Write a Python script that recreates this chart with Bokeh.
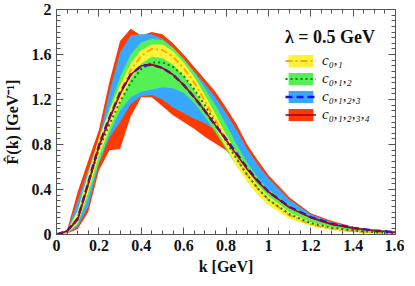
from bokeh.plotting import figure
from bokeh.models import (LinearAxis, SingleIntervalTicker, Legend, LegendItem,
                          Range1d, ColumnDataSource, CustomJSTickFormatter)
from bokeh.embed import file_html
from bokeh.resources import INLINE

# ---- data ----
k = [0, 0.05, 0.1, 0.15, 0.2, 0.25, 0.3, 0.35, 0.4, 0.45, 0.5, 0.55, 0.6, 0.65,
     0.7, 0.75, 0.8, 0.85, 0.9, 0.95, 1.0, 1.1, 1.2, 1.3, 1.4, 1.5, 1.6]

# c_{0,1}  (yellow band, orange dash-dot central line)
c01_mid = [0, .03, .15, .47, .80, 1.04, 1.26, 1.46, 1.59, 1.65, 1.64, 1.58, 1.48, 1.35,
           1.19, 1.02, .85, .68, .53, .41, .31, .17, .09, .05, .03, .017, .01]
c01_hi = [0, .03, .21, .54, .86, 1.10, 1.33, 1.52, 1.64, 1.69, 1.69, 1.63, 1.53, 1.40,
          1.24, 1.07, .89, .72, .57, .44, .34, .20, .11, .065, .038, .022, .013]
c01_lo = [0, .01, .10, .38, .70, .94, 1.17, 1.38, 1.52, 1.58, 1.57, 1.51, 1.41, 1.28,
          1.12, .95, .78, .61, .47, .35, .26, .14, .075, .04, .022, .012, .007]

# c_{0,1,2}  (green band, dotted central line)
c012_mid = [0, .03, .14, .45, .76, .98, 1.18, 1.35, 1.47, 1.53, 1.53, 1.49, 1.41, 1.29,
            1.15, .99, .83, .67, .53, .41, .31, .18, .10, .06, .035, .02, .012]
c012_hi = [0, .02, .22, .55, .84, 1.13, 1.40, 1.60, 1.71, 1.74, 1.73, 1.66, 1.56, 1.44,
           1.30, 1.15, .98, .80, .64, .51, .40, .26, .155, .095, .057, .035, .02]
c012_lo = [0, .01, .09, .33, .64, .90, 1.10, 1.22, 1.27, 1.29, 1.31, 1.30, 1.26, 1.17,
           1.05, .91, .76, .61, .48, .37, .28, .16, .09, .05, .03, .018, .01]

# c_{0,1,2,3}  (blue band, dashed central line)
c0123_mid = [0, .03, .14, .46, .79, 1.04, 1.26, 1.42, 1.50, 1.51, 1.48, 1.42, 1.33, 1.22,
             1.10, .97, .85, .72, .59, .48, .38, .245, .155, .095, .058, .036, .021]
c0123_hi = [0, .03, .30, .58, .85, 1.27, 1.62, 1.77, 1.78, 1.78, 1.74, 1.66, 1.56, 1.45,
            1.34, 1.22, 1.08, .93, .76, .62, .50, .31, .18, .11, .065, .038, .022]
c0123_lo = [0, .01, .07, .25, .63, .86, 1.00, 1.16, 1.23, 1.24, 1.20, 1.13, 1.08, 1.03,
            .99, .93, .80, .68, .56, .45, .36, .225, .14, .085, .052, .032, .019]

# c_{0,1,2,3,4}  (red band, solid dark-red central line)
c01234_mid = [0, .03, .13, .45, .78, 1.03, 1.25, 1.42, 1.50, 1.51, 1.48, 1.42, 1.33, 1.22,
              1.10, .97, .84, .71, .58, .47, .38, .24, .15, .09, .055, .035, .02]
c01234_hi = [0, .04, .38, .66, .93, 1.36, 1.72, 1.83, 1.77, 1.80, 1.78, 1.70, 1.60, 1.49,
             1.38, 1.27, 1.13, .98, .80, .66, .53, .33, .19, .12, .07, .04, .025]
c01234_lo = [0, .01, .05, .20, .57, .75, .76, 1.05, 1.22, 1.22, 1.14, 1.06, 1.00, .94,
             .87, .81, .75, .65, .53, .43, .34, .21, .13, .08, .05, .03, .018]

labels = ["c₀,₁", "c₀,₁,₂", "c₀,₁,₂,₃", "c₀,₁,₂,₃,₄"]
legend_title = "λ = 0.5 GeV"
x_label = "k [GeV]"
y_label = "F̂(k) [GeV⁻¹]"

src = ColumnDataSource(dict(
    k=k,
    c01_mid=c01_mid, c01_hi=c01_hi, c01_lo=c01_lo,
    c012_mid=c012_mid, c012_hi=c012_hi, c012_lo=c012_lo,
    c0123_mid=c0123_mid, c0123_hi=c0123_hi, c0123_lo=c0123_lo,
    c01234_mid=c01234_mid, c01234_hi=c01234_hi, c01234_lo=c01234_lo,
))

FONT = "Liberation Serif"
AX = "#555555"

p = figure(frame_width=339, frame_height=225,
           x_range=Range1d(0, 1.6), y_range=Range1d(0, 2),
           output_backend="svg", toolbar_location=None,
           min_border_left=53, min_border_right=9, min_border_top=9, min_border_bottom=40)
p.grid.visible = False
p.outline_line_color = AX
p.background_fill_color = "white"

# bands (bottom to top)
r_red = p.varea(x="k", y1="c01234_lo", y2="c01234_hi", source=src, fill_color="#ff3a00")
r_blue = p.varea(x="k", y1="c0123_lo", y2="c0123_hi", source=src, fill_color="#38a8ff")
r_green = p.varea(x="k", y1="c012_lo", y2="c012_hi", source=src, fill_color="#55f055")
r_yel = p.varea(x="k", y1="c01_lo", y2="c01_hi", source=src, fill_color="#fff23a")

# central lines
l_yel = p.line(x="k", y="c01_mid", source=src, line_color="#ffaa00", line_width=2,
               line_dash="7 3 2 3")
l_green = p.line(x="k", y="c012_mid", source=src, line_color="#008a00", line_width=2,
                 line_dash="2 3")
l_blue = p.line(x="k", y="c0123_mid", source=src, line_color="#1010ee", line_width=2.4,
                line_dash="7 4")
l_red = p.line(x="k", y="c01234_mid", source=src, line_color="#a00030", line_width=1.6)


def style(ax, interval, nminor, labels_on):
    ax.ticker = SingleIntervalTicker(interval=interval, num_minor_ticks=nminor)
    ax.major_tick_in = 7
    ax.major_tick_out = 0
    ax.minor_tick_in = 4
    ax.minor_tick_out = 0
    ax.axis_line_color = AX
    ax.major_tick_line_color = AX
    ax.minor_tick_line_color = AX
    if labels_on:
        ax.formatter = CustomJSTickFormatter(code="return Number(tick.toFixed(2)).toString();")
        ax.major_label_text_font = FONT
        ax.major_label_text_font_style = "bold"
        ax.major_label_text_font_size = "16px"
        ax.major_label_text_color = "#111111"
        ax.axis_label_text_font = FONT
        ax.axis_label_text_font_style = "bold"
        ax.axis_label_text_font_size = "16px"
        ax.axis_label_text_color = "#111111"
    else:
        ax.formatter = CustomJSTickFormatter(code="return '';")
        ax.major_label_text_font_size = "0px"
        ax.major_label_standoff = 0


xa = p.xaxis[0]
ya = p.yaxis[0]
style(xa, 0.2, 4, True)
style(ya, 0.4, 8, True)
xa.axis_label = x_label
ya.axis_label = y_label
xa.major_label_standoff = 5
ya.major_label_standoff = 5
xa.axis_label_standoff = 4
ya.axis_label_standoff = 8

top = LinearAxis()
right = LinearAxis()
style(top, 0.2, 4, False)
style(right, 0.4, 8, False)
p.add_layout(top, "above")
p.add_layout(right, "right")

legend = Legend(items=[
    LegendItem(label=labels[0], renderers=[r_yel, l_yel]),
    LegendItem(label=labels[1], renderers=[r_green, l_green]),
    LegendItem(label=labels[2], renderers=[r_blue, l_blue]),
    LegendItem(label=labels[3], renderers=[r_red, l_red]),
], title=legend_title, location=(229, 111))
legend.border_line_color = None
legend.background_fill_color = "white"
legend.background_fill_alpha = 1.0
legend.padding = 3
legend.margin = 0
legend.spacing = 1
legend.glyph_width = 31
legend.glyph_height = 15
legend.label_height = 15
legend.label_standoff = 6
legend.label_text_font = FONT
legend.label_text_font_size = "15px"
legend.label_text_font_style = "italic"
legend.label_text_color = "#111111"
legend.title_text_font = FONT
legend.title_text_font_style = "bold"
legend.title_text_font_size = "18px"
legend.title_text_color = "#111111"
legend.title_standoff = 4
p.add_layout(legend)

open("out.html", "w").write(file_html(p, INLINE))
